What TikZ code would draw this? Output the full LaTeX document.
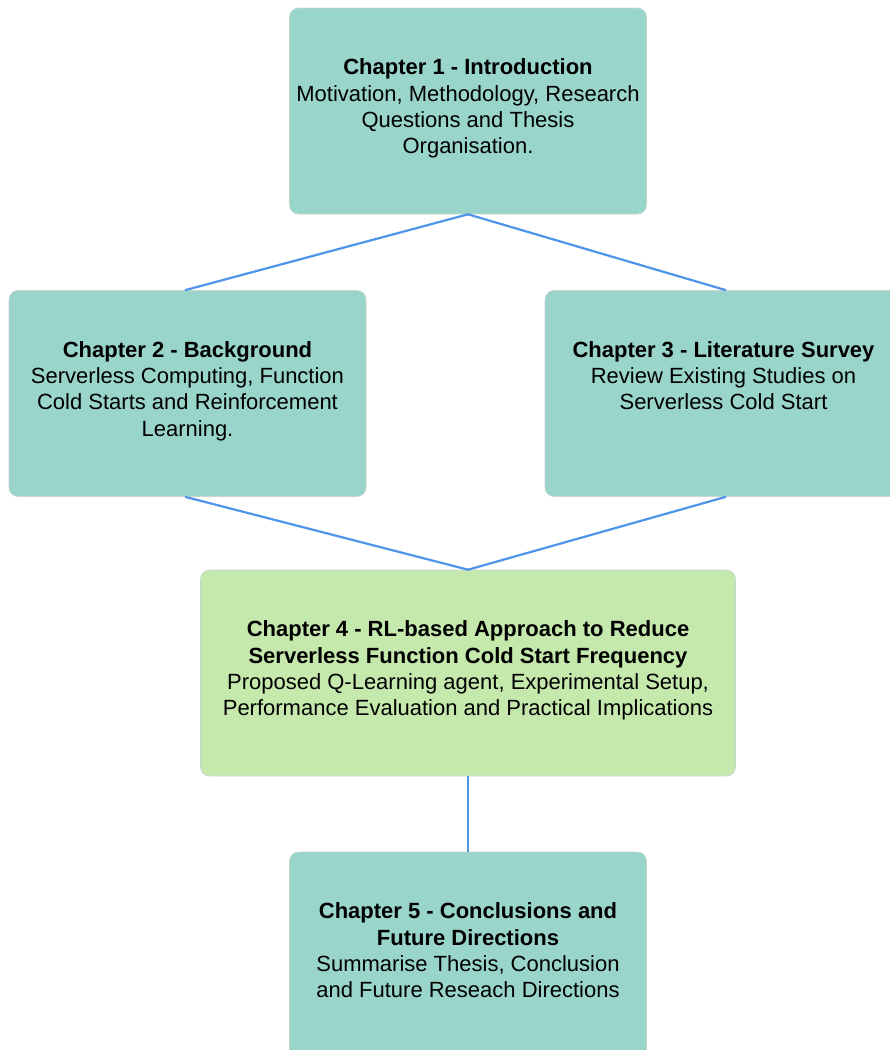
\documentclass[tikz,border=0pt]{standalone}
\usepackage{fontspec}
\setmainfont{Liberation Sans}
\definecolor{tealfill}{RGB}{153,213,202}
\definecolor{greenfill}{RGB}{197,232,173}
\definecolor{linkblue}{RGB}{78,148,232}
\definecolor{edgegray}{RGB}{200,214,210}
\tikzset{
  chapbox/.style={rectangle, rounded corners=9pt, fill=tealfill, draw=edgegray, line width=0.6pt,
    minimum width=357pt, minimum height=206pt, inner sep=0pt},
  mainbox/.style={chapbox, fill=greenfill, minimum width=535pt},
  chaptext/.style={anchor=north, align=center, inner sep=0pt,
    font=\fontsize{22}{26.3}\selectfont},
  link/.style={draw=linkblue, line width=2.2pt}
}
\begin{document}
\begin{tikzpicture}[x=1pt,y=-1pt]
\useasboundingbox (0,0) rectangle (890,1050);
\clip (0,0) rectangle (890,1050);

% chapter boxes
\node[chapbox] (c1) at (468,111) {};
\node[chapbox] (c2) at (187.5,393.5) {};
\node[chapbox] (c3) at (723.5,393.5) {};
\node[mainbox] (c4) at (468,673) {};
\node[chapbox] (c5) at (468,955) {};

% connectors (they meet the side boxes slightly off their centres)
\draw[link] (c1.south) -- ([xshift=-2.5pt]c2.north);
\draw[link] (c1.south) -- ([xshift=2.5pt]c3.north);
\draw[link] ([xshift=-2.5pt]c2.south) -- (c4.north);
\draw[link] ([xshift=2.5pt]c3.south) -- (c4.north);
\draw[link] (c4.south) -- (c5.north);

% chapter descriptions
\node[chaptext] (t1) at ([yshift=-51pt]c1.north) {\textbf{Chapter 1 - Introduction}\\Motivation, Methodology, Research\\Questions and Thesis\\Organisation.};
\node[chaptext] (t2) at ([yshift=-51pt]c2.north) {\textbf{Chapter 2 - Background}\\Serverless Computing, Function\\Cold Starts and Reinforcement\\Learning.};
\node[chaptext] (t3) at ([yshift=-51pt]c3.north) {\textbf{Chapter 3 - Literature Survey}\\Review Existing Studies on\\Serverless Cold Start};
\node[chaptext] (t4) at ([yshift=-51pt]c4.north) {\textbf{Chapter 4 - RL-based Approach to Reduce}\\\textbf{Serverless Function Cold Start Frequency}\\Proposed Q-Learning agent, Experimental Setup,\\Performance Evaluation and Practical Implications};
\node[chaptext] (t5) at ([yshift=-51pt]c5.north) {\textbf{Chapter 5 - Conclusions and}\\\textbf{Future Directions}\\Summarise Thesis, Conclusion\\and Future Reseach Directions};
\end{tikzpicture}
\end{document}
